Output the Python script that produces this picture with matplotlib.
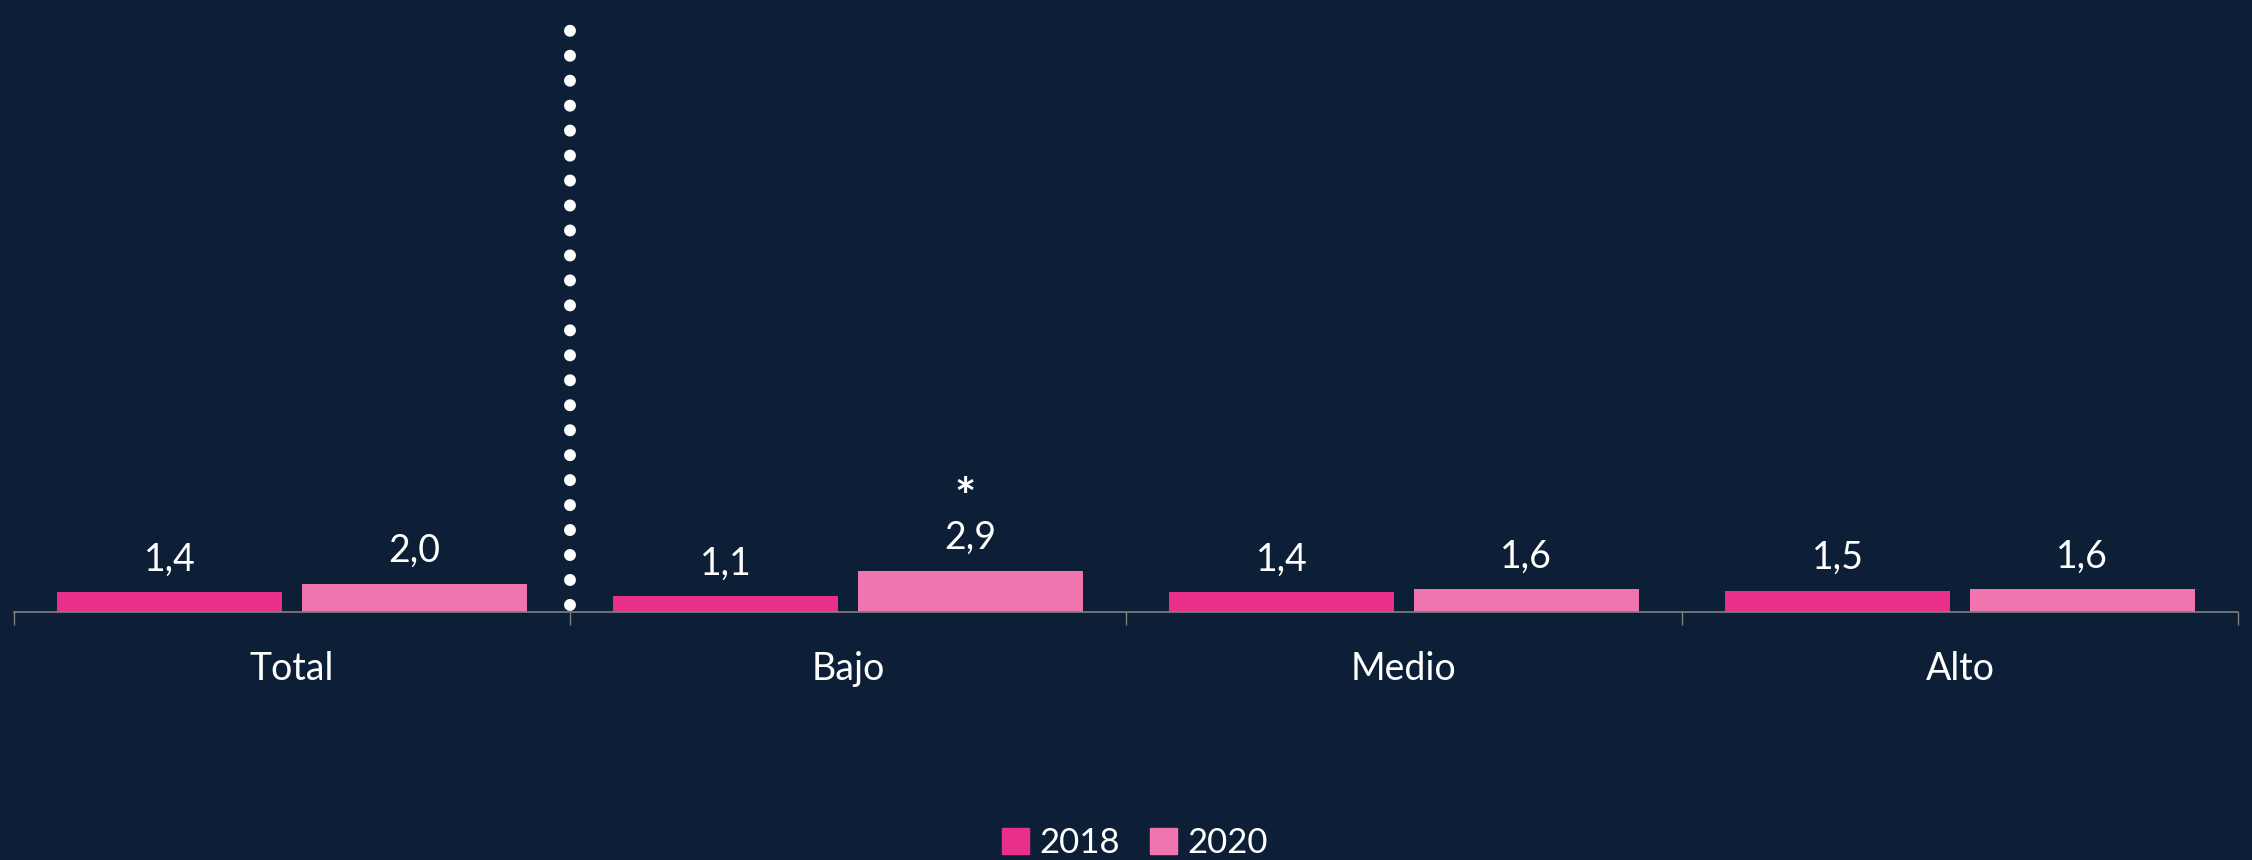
import matplotlib.pyplot as plt
import matplotlib.patches as mpatches
import numpy as np

plt.rcParams['font.family'] = ['Lato', 'DejaVu Sans']

# datos
categorias = ['Total', 'Bajo', 'Medio', 'Alto']
valores_2018 = [1.4, 1.1, 1.4, 1.5]
valores_2020 = [2.0, 2.9, 1.6, 1.6]
etiquetas_2018 = ['1,4', '1,1', '1,4', '1,5']
etiquetas_2020 = ['2,0', '2,9', '1,6', '1,6']
asteriscos_2020 = ['', '*', '', '']
series = ['2018', '2020']

fondo = '#0C1F36'
color_2018 = '#E8308A'
color_2020 = '#F075AE'
gris = '#808080'

fig = plt.figure(figsize=(22.52, 8.6), dpi=100, facecolor=fondo)
ax = fig.add_axes([14/2252, 248/860, 2224/2252, 612/860], facecolor=fondo)

x = np.arange(len(categorias))
ancho = 0.405
desp = 0.22

b1 = ax.bar(x - desp, valores_2018, ancho, color=color_2018)
b2 = ax.bar(x + desp, valores_2020, ancho, color=color_2020)

# etiquetas de valor
for barras, etiquetas in ((b1, etiquetas_2018), (b2, etiquetas_2020)):
    for barra, et in zip(barras, etiquetas):
        ax.annotate(et, (barra.get_x() + barra.get_width()/2, barra.get_height()),
                    xytext=(0, 15.5), textcoords='offset points',
                    ha='center', va='baseline', fontsize=27, color='white')

# asterisco de diferencia significativa
for barra, ast in zip(b2, asteriscos_2020):
    if ast:
        ax.annotate(ast, (barra.get_x() + barra.get_width()/2, barra.get_height()),
                    xytext=(-4, 41), textcoords='offset points',
                    ha='center', va='baseline', fontsize=36, color='white',
                    fontweight='bold')

# linea punteada separadora
ax.axvline(0.5, ymin=0.011, ymax=0.985, color='white', linewidth=8.6,
           linestyle=(0, (0.01, 2.08)), dash_capstyle='round', zorder=5)

ax.set_xlim(-0.5, 3.5)
ax.set_ylim(0, 43)

for s in ['left', 'top', 'right']:
    ax.spines[s].set_visible(False)
ax.spines['bottom'].set_color(gris)
ax.spines['bottom'].set_linewidth(1.2)
ax.set_yticks([])
ax.set_xticks(np.arange(-0.5, 4, 1))
ax.set_xticklabels([])
ax.tick_params(axis='x', length=9.4, width=1.0, color=gris, direction='out')

# etiquetas de categoria
for i, cat in enumerate(categorias):
    ax.annotate(cat, (i, 0), xycoords=('data', 'axes fraction'),
                xytext=(0, -49), textcoords='offset points',
                ha='center', va='baseline', fontsize=27, color='white')

handles = [mpatches.Patch(color=color_2018, label=series[0]),
           mpatches.Patch(color=color_2020, label=series[1])]
fig.legend(handles=handles, loc='center', bbox_to_anchor=(1135/2252, 1 - 843/860),
           ncol=2, frameon=False, fontsize=25, labelcolor='white',
           handlelength=0.78, handleheight=0.78, handletextpad=0.3,
           columnspacing=0.85)

fig.savefig('out.png', dpi=100, facecolor=fondo)
